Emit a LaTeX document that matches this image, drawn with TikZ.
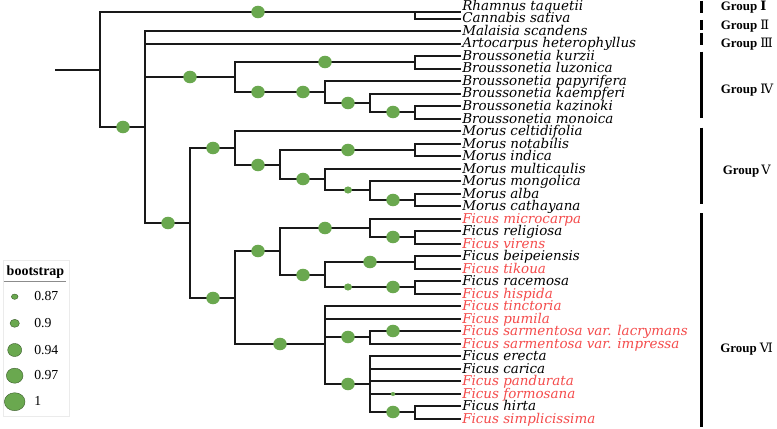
\documentclass[tikz,border=0pt]{standalone}
\usepackage{fontspec}
\setmainfont{Liberation Serif}
\newfontfamily\leaffont{DejaVu Serif}
\newfontfamily\numfont{DejaVu Serif}
\usetikzlibrary{shapes.geometric}
\definecolor{dotgreen}{RGB}{106,168,79}
\definecolor{ficred}{RGB}{244,75,75}
\definecolor{brline}{RGB}{25,25,25}
\begin{document}
\begin{tikzpicture}[x=0.75pt,y=-0.75pt,
  br/.style={draw=brline,line width=1.5pt,line join=miter},
  bigdot/.style={ellipse,fill=dotgreen,inner sep=0pt,minimum width=10.1pt,minimum height=9.4pt},
  smalldot/.style={ellipse,fill=dotgreen,inner sep=0pt,minimum width=6pt,minimum height=5.3pt},
  tinydot/.style={ellipse,fill=dotgreen,inner sep=0pt,minimum width=3.4pt,minimum height=3pt},
  leaf/.style={anchor=base west,inner sep=0pt,font=\leaffont\itshape\fontsize{10.1}{11}\selectfont},
  grp/.style={anchor=base west,inner sep=0pt,font=\bfseries\fontsize{9.7}{10}\selectfont},
  grpbar/.style={draw=black,line width=2.25pt},
  legdot/.style={ellipse,fill=dotgreen,draw=dotgreen!55!black,line width=0.3pt,inner sep=0pt},
  legtxt/.style={anchor=base west,inner sep=0pt,font=\fontsize{10.3}{11}\selectfont}]
\useasboundingbox (0,0) rectangle (777,428);

% tip coordinates
\coordinate (t0) at (461,12);
\foreach \i in {1,...,33}{\coordinate (t\i) at (461,{round(6+12.5*\i)});}

% internal nodes
\coordinate (rs) at (55,70);
\coordinate (n0) at (100,70);
\coordinate (nA) at (415,12);
\coordinate (nB) at (145,127);
\coordinate (nBr) at (235,77);
\coordinate (nBr1) at (415,62);
\coordinate (nBr2) at (325,92);
\coordinate (nBr3) at (370,103);
\coordinate (nBr4) at (415,112);
\coordinate (nMF) at (190,223);
\coordinate (nM) at (235,148);
\coordinate (nM1) at (280,165);
\coordinate (nM2) at (415,150);
\coordinate (nM3) at (325,179);
\coordinate (nM4) at (370,190);
\coordinate (nM5) at (415,200);
\coordinate (nF) at (235,298);
\coordinate (nF1) at (280,251);
\coordinate (nF2) at (370,228);
\coordinate (nF3) at (415,237);
\coordinate (nF4) at (325,275);
\coordinate (nF6) at (415,262);
\coordinate (nF7) at (415,287);
\coordinate (nF5) at (325,344);
\coordinate (nF8) at (370,337);
\coordinate (nF9) at (370,384);
\coordinate (nF10) at (415,412);

% branches
\draw[br] (rs) -- (n0);
\foreach \p/\c in {n0/nA, n0/nB, nA/t0, nA/t1,
  nB/t2, nB/t3, nB/nBr, nB/nMF,
  nBr/nBr1, nBr/nBr2, nBr1/t4, nBr1/t5, nBr2/t6, nBr2/nBr3, nBr3/t7, nBr3/nBr4, nBr4/t8, nBr4/t9,
  nMF/nM, nMF/nF,
  nM/t10, nM/nM1, nM1/nM2, nM1/nM3, nM2/t11, nM2/t12, nM3/t13, nM3/nM4, nM4/t14, nM4/nM5, nM5/t15, nM5/t16,
  nF/nF1, nF/nF5, nF1/nF2, nF1/nF4, nF2/t17, nF2/nF3, nF3/t18, nF3/t19,
  nF4/nF6, nF4/nF7, nF6/t20, nF6/t21, nF7/t22, nF7/t23,
  nF5/t24, nF5/t25, nF5/nF8, nF5/nF9, nF8/t26, nF8/t27,
  nF9/t28, nF9/t29, nF9/t30, nF9/t31, nF9/nF10, nF10/t32, nF10/t33}
  {\draw[br] (\p) |- (\c);}

% bootstrap dots
\foreach \x/\y [count=\k] in {258/12, 123/127, 190/77, 325/62, 258/92, 303/92, 348/103, 393/112,
  168/223, 213/148, 258/165, 348/150, 303/179, 393/200,
  213/298, 258/251, 325/228, 393/237, 303/275, 370/262, 393/287,
  280/344, 348/337, 393/331, 348/384, 393/412}
  {\node[bigdot] (d\k) at (\x,\y) {};}
\node[smalldot] (ds1) at (348,190) {};
\node[smalldot] (ds2) at (348,287) {};
\node[tinydot] (dt1) at (393,394) {};

% leaf labels
\foreach \t/\c [count=\i from 0] in {
  Rhamnus taquetii/black, Cannabis sativa/black, Malaisia scandens/black, Artocarpus heterophyllus/black,
  Broussonetia kurzii/black, Broussonetia luzonica/black, Broussonetia papyrifera/black, Broussonetia kaempferi/black,
  Broussonetia kazinoki/black, Broussonetia monoica/black,
  Morus celtidifolia/black, Morus notabilis/black, Morus indica/black, Morus multicaulis/black,
  Morus mongolica/black, Morus alba/black, Morus cathayana/black,
  Ficus microcarpa/ficred, Ficus religiosa/black, Ficus virens/ficred, Ficus beipeiensis/black,
  Ficus tikoua/ficred, Ficus racemosa/black, Ficus hispida/ficred, Ficus tinctoria/ficred,
  Ficus pumila/ficred, Ficus sarmentosa var. lacrymans/ficred, Ficus sarmentosa var. impressa/ficred,
  Ficus erecta/black, Ficus carica/black, Ficus pandurata/ficred, Ficus formosana/ficred,
  Ficus hirta/black, Ficus simplicissima/ficred}
  {\node[leaf,text=\c] (l\i) at (462,{6+12.5*\i+4.5}) {\t};}

% group bars
\draw[grpbar] (701,1) -- (701,13.3);
\draw[grpbar] (701,20) -- (701,30);
\draw[grpbar] (701,33) -- (701,45);
\draw[grpbar] (701,51.7) -- (701,118.3);
\draw[grpbar] (701,127.7) -- (701,204);
\draw[grpbar] (701,213) -- (701,427);

% group labels
\node[grp] (g1) at (720.5,10.6) {Group {\numfont\bfseries Ⅰ}};
\node[grp] (g2) at (720.5,29.6) {Group {\numfont\mdseries Ⅱ}};
\node[grp] (g3) at (720.5,47.2) {Group {\numfont\mdseries Ⅲ}};
\node[grp] (g4) at (720.5,93.2) {Group {\numfont\mdseries Ⅳ}};
\node[grp] (g5) at (722.5,174.9) {Group\,{\numfont\mdseries Ⅴ}};
\node[grp] (g6) at (720,352.2) {Group {\numfont\mdseries Ⅵ}};

% legend
\draw[draw=black!8,fill=white,line width=0.5pt] (3,260) rectangle (69,416);
\node[anchor=base,inner sep=0pt,font=\bfseries\fontsize{10.5}{11}\selectfont] (lt) at (35.5,275) {bootstrap};
\draw[draw=black!45,line width=0.5pt] (3.5,281) -- (66,281);
\node[legdot,minimum width=5pt,minimum height=4pt] (ld1) at (14.7,296.7) {};
\node[legdot,minimum width=7pt,minimum height=6pt] (ld2) at (14.7,323.3) {};
\node[legdot,minimum width=10.5pt,minimum height=9.8pt] (ld3) at (14.7,350) {};
\node[legdot,minimum width=12.5pt,minimum height=11.3pt] (ld4) at (14.7,375.7) {};
\node[legdot,minimum width=15.5pt,minimum height=13.5pt] (ld5) at (14.7,401.7) {};
\node[legtxt] (lv1) at (34,300.7) {0.87};
\node[legtxt] (lv2) at (34,327.3) {0.9};
\node[legtxt] (lv3) at (34,354) {0.94};
\node[legtxt] (lv4) at (34,379.7) {0.97};
\node[legtxt] (lv5) at (34,405.7) {1};
\end{tikzpicture}
\end{document}
